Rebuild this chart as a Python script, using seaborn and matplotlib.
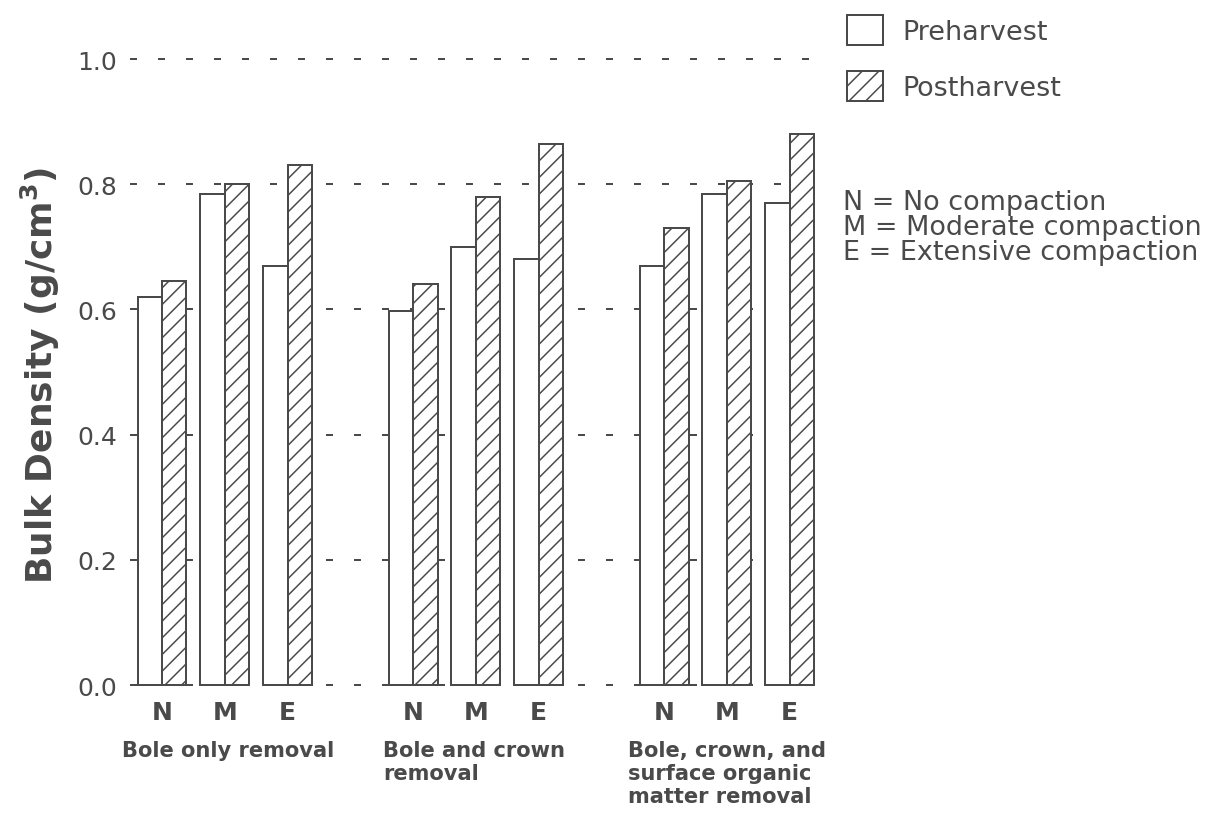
import pandas as pd
import matplotlib
matplotlib.use('Agg')
import matplotlib.pyplot as plt
import matplotlib.transforms as mtransforms
import seaborn as sns

treatments = ['Bole only removal', 'Bole and crown\nremoval',
              'Bole, crown, and\nsurface organic\nmatter removal']
compaction = ['N', 'M', 'E']
phases = ['Preharvest', 'Postharvest']
preharvest = [0.62, 0.785, 0.67, 0.597, 0.70, 0.68, 0.67, 0.785, 0.77]
postharvest = [0.645, 0.80, 0.83, 0.64, 0.78, 0.865, 0.73, 0.805, 0.88]
y_ticks = [0.0, 0.2, 0.4, 0.6, 0.8, 1.0]
key_lines = ['N = No compaction', 'M = Moderate compaction', 'E = Extensive compaction']

ink = '#4a4a4a'
DPI = 100


def px(v):
    # pixel size -> points
    return v * 72 / DPI


# one slot per compaction level, an empty slot between treatments
rows = []
for i, treat in enumerate(treatments):
    for j, level in enumerate(compaction):
        k = i * len(compaction) + j
        pos = i * (len(compaction) + 1) + j
        rows.append({'pos': pos, 'level': level, 'phase': phases[0], 'density': preharvest[k]})
        rows.append({'pos': pos, 'level': level, 'phase': phases[1], 'density': postharvest[k]})
df = pd.DataFrame(rows)

sns.set_style('white')
plt.rcParams['font.family'] = ['DejaVu Sans']
plt.rcParams['hatch.linewidth'] = px(1.5)
plt.rcParams['hatch.color'] = ink

fig = plt.figure(figsize=(12.17, 8.2), dpi=DPI, facecolor='white')
ax = fig.add_axes([0.1068, 0.1557, 0.5637, 0.7863])

sns.barplot(data=df, x='pos', y='density', hue='phase', hue_order=phases,
            native_scale=True, palette=['white', 'white'], edgecolor=ink,
            linewidth=px(2), width=0.78, gap=0, errorbar=None, legend=False, ax=ax)

for bar in ax.containers[1]:
    bar.set_hatch('//')

ax.set_xlim(-0.51, 10.42)
ax.set_ylim(-0.01, 1.02)
ax.set_yticks(y_ticks)
ax.set_yticklabels([f'{v:.1f}' for v in y_ticks])
xpos = sorted(df['pos'].unique())
ax.set_xticks(xpos)
ax.set_xticklabels(compaction * len(treatments), fontweight='bold')
ax.tick_params(axis='y', length=0, pad=px(13), labelsize=px(25), labelcolor=ink)
ax.tick_params(axis='x', length=0, pad=px(9), labelsize=px(25), labelcolor=ink)
ax.set_xlabel('')
ax.set_ylabel('')
sns.despine(ax=ax, left=True, bottom=True)
ax.yaxis.grid(True, linestyle=(0, (3.5, 10.5)), linewidth=px(2), color=ink)
ax.xaxis.grid(False)
ax.set_axisbelow(True)

# treatment names under each group of three
trans = mtransforms.blended_transform_factory(ax.transData, fig.transFigure)
label_shift = [-0.64, -0.48, -0.58]
for i, treat in enumerate(treatments):
    x0 = i * (len(compaction) + 1) + label_shift[i]
    ax.text(x0, 1 - 741 / 820, treat, transform=trans, ha='left', va='top',
            fontsize=px(21), fontweight='bold', color=ink, linespacing=1.2)

fig.text(40 / 1217, 1 - 375 / 820, r'Bulk Density (g/cm$^\mathbf{3}$)', rotation=90,
         ha='center', va='center', fontsize=px(36), fontweight='bold', color=ink)

handles = [ax.containers[0][0], ax.containers[1][0]]
fig.legend(handles, phases, loc='upper left', bbox_to_anchor=(847 / 1217, 1 - 16 / 820),
           frameon=False, fontsize=px(27), labelcolor=ink, handlelength=1.35, handleheight=1.33,
           handletextpad=0.7, labelspacing=0.95, borderpad=0, borderaxespad=0)

for i, line in enumerate(key_lines):
    fig.text(843 / 1217, 1 - (203 + 25 * i) / 820, line, fontsize=px(27), va='center',
             ha='left', color=ink)

fig.savefig('out.png', dpi=DPI, facecolor='white')
